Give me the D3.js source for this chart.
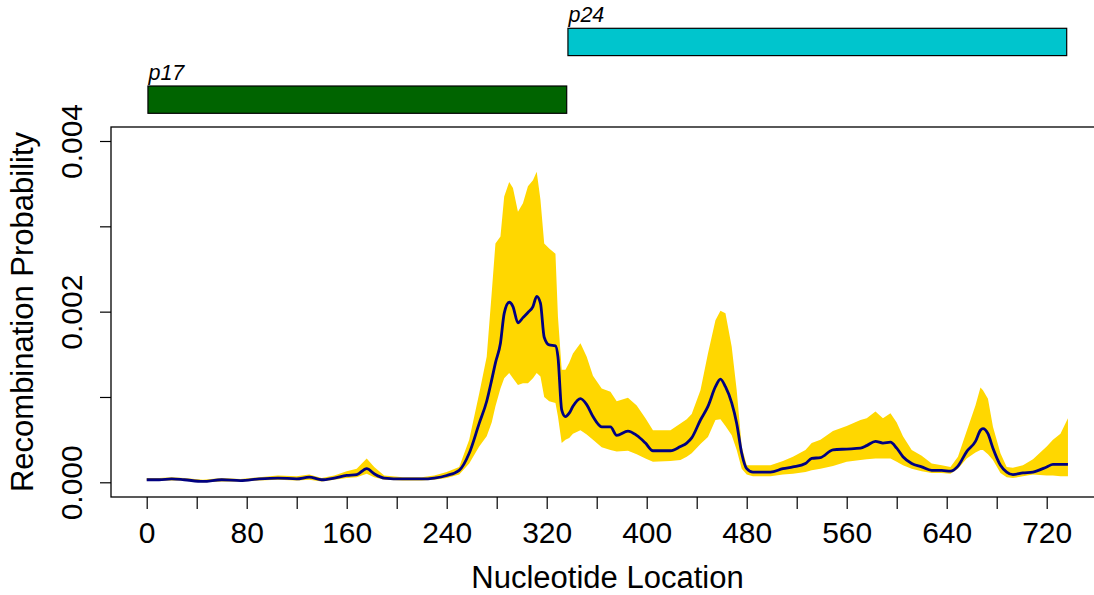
<!DOCTYPE html>
<html>
<head>
<meta charset="utf-8">
<script src="https://cdn.jsdelivr.net/npm/d3@7"></script>
<style>
  html, body { margin: 0; padding: 0; background: #fff; }
  svg { display: block; font-family: "Liberation Sans", Arial, Helvetica, sans-serif; }
</style>
</head>
<body>
<svg id="chart" width="1094" height="595"></svg>
<script>
// ---- data ----
const positions = [0,10,20,30,45,60,75,90,105,120,130,140,150,160,168,176,182,190,205,220,230,240,250,258,266,272,276,279,283,286,290,293,297,301,305,309,312,315,318,322,327,329,332,335,338,341,347,352,357,364,371,376,385,392,399,405,419,427,432,436,443,449,455,459,463,468,472,476,480,485,499,509,517,527,532,539,549,560,571,576,583,589,595,600,605,612,620,628,636,643,649,656,663,667,669,673,677,683,688,693,701,709,720,725,731,737];
const meanProb = [0.00003,0.00003,0.00004,0.00003,0.00001,0.00003,0.00002,0.00004,0.00005,0.00004,0.00006,0.00003,0.00005,0.00008,0.00009,0.00016,0.00010,0.00005,0.00004,0.00004,0.00005,0.00008,0.00014,0.00034,0.00069,0.00095,0.00120,0.00140,0.00163,0.00198,0.00211,0.00206,0.00187,0.00193,0.00199,0.00206,0.00218,0.00210,0.00170,0.00161,0.00160,0.00147,0.00085,0.00077,0.00081,0.00089,0.00098,0.00091,0.00077,0.00065,0.00065,0.00055,0.00060,0.00055,0.00046,0.00037,0.00037,0.00042,0.00046,0.00052,0.00073,0.00089,0.00112,0.00121,0.00112,0.00093,0.00069,0.00034,0.00016,0.00012,0.00012,0.00016,0.00018,0.00022,0.00028,0.00029,0.00038,0.00039,0.00040,0.00043,0.00048,0.00046,0.00047,0.00040,0.00030,0.00022,0.00018,0.00014,0.00014,0.00013,0.00019,0.00036,0.00048,0.00061,0.00063,0.00057,0.00040,0.00020,0.00012,0.00009,0.00011,0.00012,0.00018,0.00021,0.00021,0.00021];
const upperProb = [0.00005,0.00005,0.00006,0.00005,0.00003,0.00005,0.00004,0.00006,0.00008,0.00007,0.00009,0.00005,0.00008,0.00013,0.00016,0.00028,0.00018,0.00008,0.00006,0.00006,0.00008,0.00012,0.00018,0.00050,0.00104,0.00147,0.00222,0.00280,0.00288,0.00335,0.00352,0.00345,0.00317,0.00327,0.00347,0.00354,0.00364,0.00331,0.00280,0.00274,0.00268,0.00194,0.00132,0.00132,0.00140,0.00151,0.00163,0.00147,0.00125,0.00110,0.00106,0.00095,0.00099,0.00090,0.00075,0.00061,0.00061,0.00069,0.00074,0.00080,0.00108,0.00151,0.00190,0.00201,0.00198,0.00159,0.00108,0.00042,0.00020,0.00020,0.00020,0.00025,0.00030,0.00038,0.00046,0.00050,0.00060,0.00066,0.00073,0.00075,0.00083,0.00075,0.00081,0.00070,0.00054,0.00038,0.00031,0.00022,0.00020,0.00018,0.00030,0.00060,0.00090,0.00111,0.00108,0.00098,0.00065,0.00034,0.00018,0.00017,0.00020,0.00027,0.00042,0.00050,0.00057,0.00075];
const lowerProb = [0.00002,0.00002,0.00002,0.00002,0.00000,0.00001,0.00001,0.00002,0.00003,0.00002,0.00003,0.00001,0.00003,0.00005,0.00006,0.00010,0.00006,0.00003,0.00002,0.00002,0.00003,0.00005,0.00009,0.00022,0.00042,0.00054,0.00070,0.00089,0.00110,0.00122,0.00128,0.00122,0.00114,0.00116,0.00116,0.00122,0.00128,0.00124,0.00100,0.00095,0.00093,0.00077,0.00046,0.00050,0.00052,0.00057,0.00061,0.00056,0.00050,0.00041,0.00038,0.00036,0.00037,0.00033,0.00028,0.00024,0.00025,0.00026,0.00030,0.00034,0.00045,0.00053,0.00073,0.00074,0.00066,0.00055,0.00038,0.00016,0.00009,0.00007,0.00007,0.00009,0.00010,0.00012,0.00014,0.00016,0.00019,0.00024,0.00026,0.00027,0.00028,0.00028,0.00028,0.00024,0.00020,0.00016,0.00013,0.00011,0.00011,0.00010,0.00016,0.00028,0.00035,0.00038,0.00038,0.00033,0.00026,0.00011,0.00006,0.00005,0.00007,0.00009,0.00008,0.00008,0.00007,0.00007];

const geneNames = ["p17", "p24"];
const geneStarts = [1, 337];
const geneEnds = [336, 736];
const geneRows = [0, 1];
const geneColors = ["#006400", "#00C5CD"];

const xTicks = [0,40,80,120,160,200,240,280,320,360,400,440,480,520,560,600,640,680,720];
const xTickLabels = [0,80,160,240,320,400,480,560,640,720];
const yTicks = [0,0.001,0.002,0.003,0.004];
const yTickLabels = [0,0.002,0.004];

// ---- layout ----
const svg = d3.select("#chart");
const plot = {left: 111, right: 1104, top: 127, bottom: 497};

const x = d3.scaleLinear().domain([0, 720]).range([146.7, 1046.7]);
const y = d3.scaleLinear().domain([0, 0.004]).range([482.3, 141]);

const data = positions.map((p, i) => ({p, m: meanProb[i], u: upperProb[i], l: lowerProb[i]}));

// band
svg.append("path")
  .datum(data)
  .attr("fill", "#FFD700")
  .attr("stroke", "none")
  .attr("d", d3.area().x(d => x(d.p)).y0(d => y(d.l)).y1(d => y(d.u)));

// mean line
svg.append("path")
  .datum(data)
  .attr("fill", "none")
  .attr("stroke", "#000080")
  .attr("stroke-width", 2.8)
  .attr("stroke-linejoin", "round")
  .attr("d", d3.line().x(d => x(d.p)).y(d => y(d.m)).curve(d3.curveMonotoneX));

// box
svg.append("rect")
  .attr("x", plot.left).attr("y", plot.top)
  .attr("width", plot.right - plot.left).attr("height", plot.bottom - plot.top)
  .attr("fill", "none").attr("stroke", "#000").attr("stroke-width", 1.3);

// x axis
const xAxis = d3.axisBottom(x).tickValues(xTicks).tickSize(12).tickSizeOuter(0)
  .tickFormat(d => xTickLabels.includes(d) ? String(d) : "");
const gx = svg.append("g").attr("transform", `translate(0,${plot.bottom})`).call(xAxis);
gx.select(".domain").remove();
gx.selectAll(".tick line").attr("stroke", "#000").attr("stroke-width", 1.2);
gx.selectAll(".tick text")
  .attr("y", 45.7).attr("dy", 0)
  .attr("font-size", 30).attr("fill", "#000")
  .attr("font-family", "Liberation Sans, Arial, sans-serif");

// y axis
const yAxis = d3.axisLeft(y).tickValues(yTicks).tickSize(11).tickSizeOuter(0)
  .tickFormat(d => yTickLabels.some(v => Math.abs(v - d) < 1e-9) ? d3.format(".3f")(d) : "");
const gy = svg.append("g").attr("transform", `translate(${plot.left},0)`).call(yAxis);
gy.select(".domain").remove();
gy.selectAll(".tick line").attr("stroke", "#000").attr("stroke-width", 1.2);
gy.selectAll(".tick text")
  .attr("transform", "rotate(-90)")
  .attr("x", 0).attr("y", -29).attr("dy", 0)
  .attr("text-anchor", "middle")
  .attr("font-size", 30).attr("fill", "#000")
  .attr("font-family", "Liberation Sans, Arial, sans-serif");

// axis titles
svg.append("text")
  .attr("x", (plot.left + plot.right) / 2).attr("y", 588)
  .attr("text-anchor", "middle").attr("font-size", 31)
  .text("Nucleotide Location");

svg.append("text")
  .attr("transform", `translate(33,${(plot.top + plot.bottom) / 2}) rotate(-90)`)
  .attr("text-anchor", "middle").attr("font-size", 31)
  .text("Recombination Probability");

// gene bars
const rowTop = [86, 28.3];
const barH = 27.3;
geneNames.forEach((name, i) => {
  const top = rowTop[geneRows[i]];
  svg.append("rect")
    .attr("x", x(geneStarts[i])).attr("y", top)
    .attr("width", x(geneEnds[i]) - x(geneStarts[i])).attr("height", barH)
    .attr("fill", geneColors[i]).attr("stroke", "#000").attr("stroke-width", 1.2);
  svg.append("text")
    .attr("x", x(geneStarts[i]) + 0.5).attr("y", top - 6)
    .attr("font-size", 21.5).attr("font-style", "italic")
    .text(name);
});
</script>
</body>
</html>
